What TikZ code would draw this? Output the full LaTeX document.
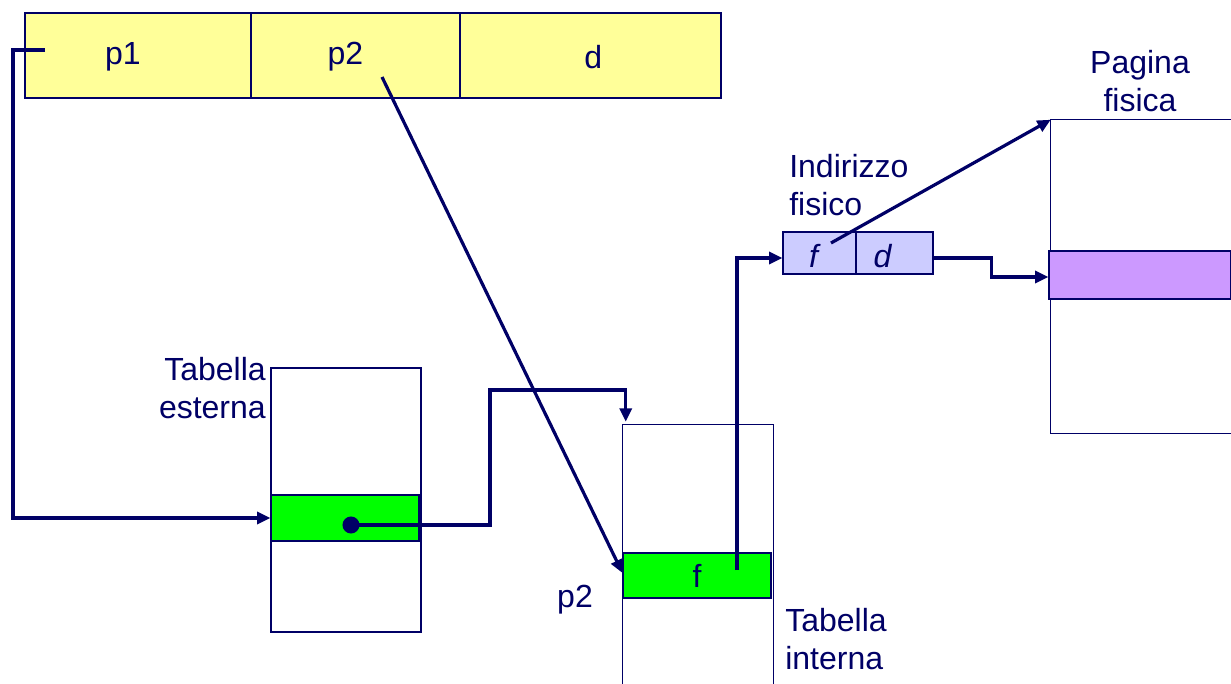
\documentclass[tikz,border=0pt]{standalone}
\usepackage{fontspec}
\setmainfont{Liberation Sans}
\usepackage{tikz}
\usetikzlibrary{positioning,arrows.meta}
\definecolor{navy}{HTML}{000066}
\definecolor{addrbar}{HTML}{FFFF99}
\definecolor{rowgreen}{HTML}{00FF00}
\definecolor{physaddr}{HTML}{CCCCFF}
\definecolor{pagerow}{HTML}{CC99FF}
\begin{document}
\begin{tikzpicture}[x = .75pt, y = -.75pt,
    every node/.style = { inner sep = 0pt, text = navy, font = \fontsize{24}{28.5}\selectfont },
    every label/.style = { inner sep = 0pt, text = navy, font = \fontsize{24}{28.5}\selectfont },
    cell/.style = { draw = navy, line width = .8pt },
    tab/.style = { draw = navy, line width = .8pt, fill = white },
    conn/.style = { draw = navy, line width = 2.4pt, -{Triangle[length = 10pt, width = 9pt]} },
    wire/.style = { draw = navy, line width = 2.4pt }]
    \useasboundingbox (0,0) rectangle (1231,684);

    % indirizzo logico
    \node [cell, fill = addrbar, minimum width = 169.5pt, minimum height = 63.75pt,
           label = {[xshift = -11.25pt, yshift = -1pt]center:p1}] (p1) at (138,55.5) {};
    \node [cell, fill = addrbar, minimum width = 156.75pt, minimum height = 63.75pt,
           label = {[xshift = -7.5pt, yshift = -1pt]center:p2}] (p2) at (355.5,55.5) {};
    \node [cell, fill = addrbar, minimum width = 195.75pt, minimum height = 63.75pt,
           label = {[xshift = 2pt, yshift = -1pt]center:d}] (d) at (590.5,55.5) {};

    % tabella esterna
    \node [tab, minimum width = 112.5pt, minimum height = 198pt] (ext) at (346,500) {};
    \node [cell, fill = rowgreen, minimum width = 111pt, minimum height = 34.5pt] (extrow) at (345,518) {};
    \node [anchor = east, align = right] (extlabel) at (266,388) {Tabella\\esterna};

    % tabella interna
    \node [minimum width = 112.5pt, minimum height = 195pt] (int) at (698,555) {};
    \fill [white] (int.south west) rectangle (int.north east);
    \draw [navy, line width = .8pt] (int.south west) |- (int.north east) -- (int.south east);
    \node [cell, fill = rowgreen, minimum width = 111pt, minimum height = 33.75pt] (introw) at (697,575.5) {f};
    \node (p2label) at (575,600) {p2};
    \node [anchor = west, align = left] (intlabel) at (785,639) {Tabella\\interna};

    % indirizzo fisico
    \node [cell, fill = physaddr, minimum width = 54.75pt, minimum height = 31.5pt,
           label = {[xshift = -4.5pt, yshift = -2pt]center:\itshape f}] (faddr) at (819.5,253) {};
    \node [cell, fill = physaddr, minimum width = 57.75pt, minimum height = 31.5pt,
           label = {[xshift = -9pt, yshift = -2pt]center:\itshape d}] (daddr) at (894.5,253) {};
    \node [anchor = west, align = left] (addrlabel) at (789,185) {Indirizzo\\fisico};

    % pagina fisica
    \node [minimum width = 135pt, minimum height = 234.75pt] (page) at (1141,276.5) {};
    \draw [navy, line width = .8pt] (page.north east) -- (page.north west) -- (page.south west) -- (page.south east);
    \node [cell, fill = pagerow, minimum width = 136.5pt, minimum height = 36pt] (pagerowbox) at (1140,275) {};
    \node [align = center] (pagelabel) at (1140,81) {Pagina\\fisica};

    % collegamenti
    \coordinate (p1start) at (45,50);
    \coordinate (dot) at (351,525);
    \coordinate (bend) at (490,390);
    \coordinate (p2start) at (382,77);
    \coordinate (fstart) at (737,570);
    \coordinate (fend) at (831,243);

    \draw [conn] (p1start) -- ++(-32,0) |- (extrow.west);
    \fill [navy] (dot) circle (6.4pt);
    \draw [conn] (dot) -| (bend) -| ([xshift = 2.25pt, yshift = 2.25pt]int.north west);
    \draw [conn] (p2start) -- ([yshift = 1.9pt]introw.west);
    \draw [conn] (fstart) |- ([yshift = -3.75pt]faddr.west);
    \draw [conn] (fend) -- (page.north west);
    \draw [conn] ([yshift = -3.75pt]daddr.east) -- ++(58,0) |- ([yshift = -1.5pt]pagerowbox.west);

\end{tikzpicture}
\end{document}
